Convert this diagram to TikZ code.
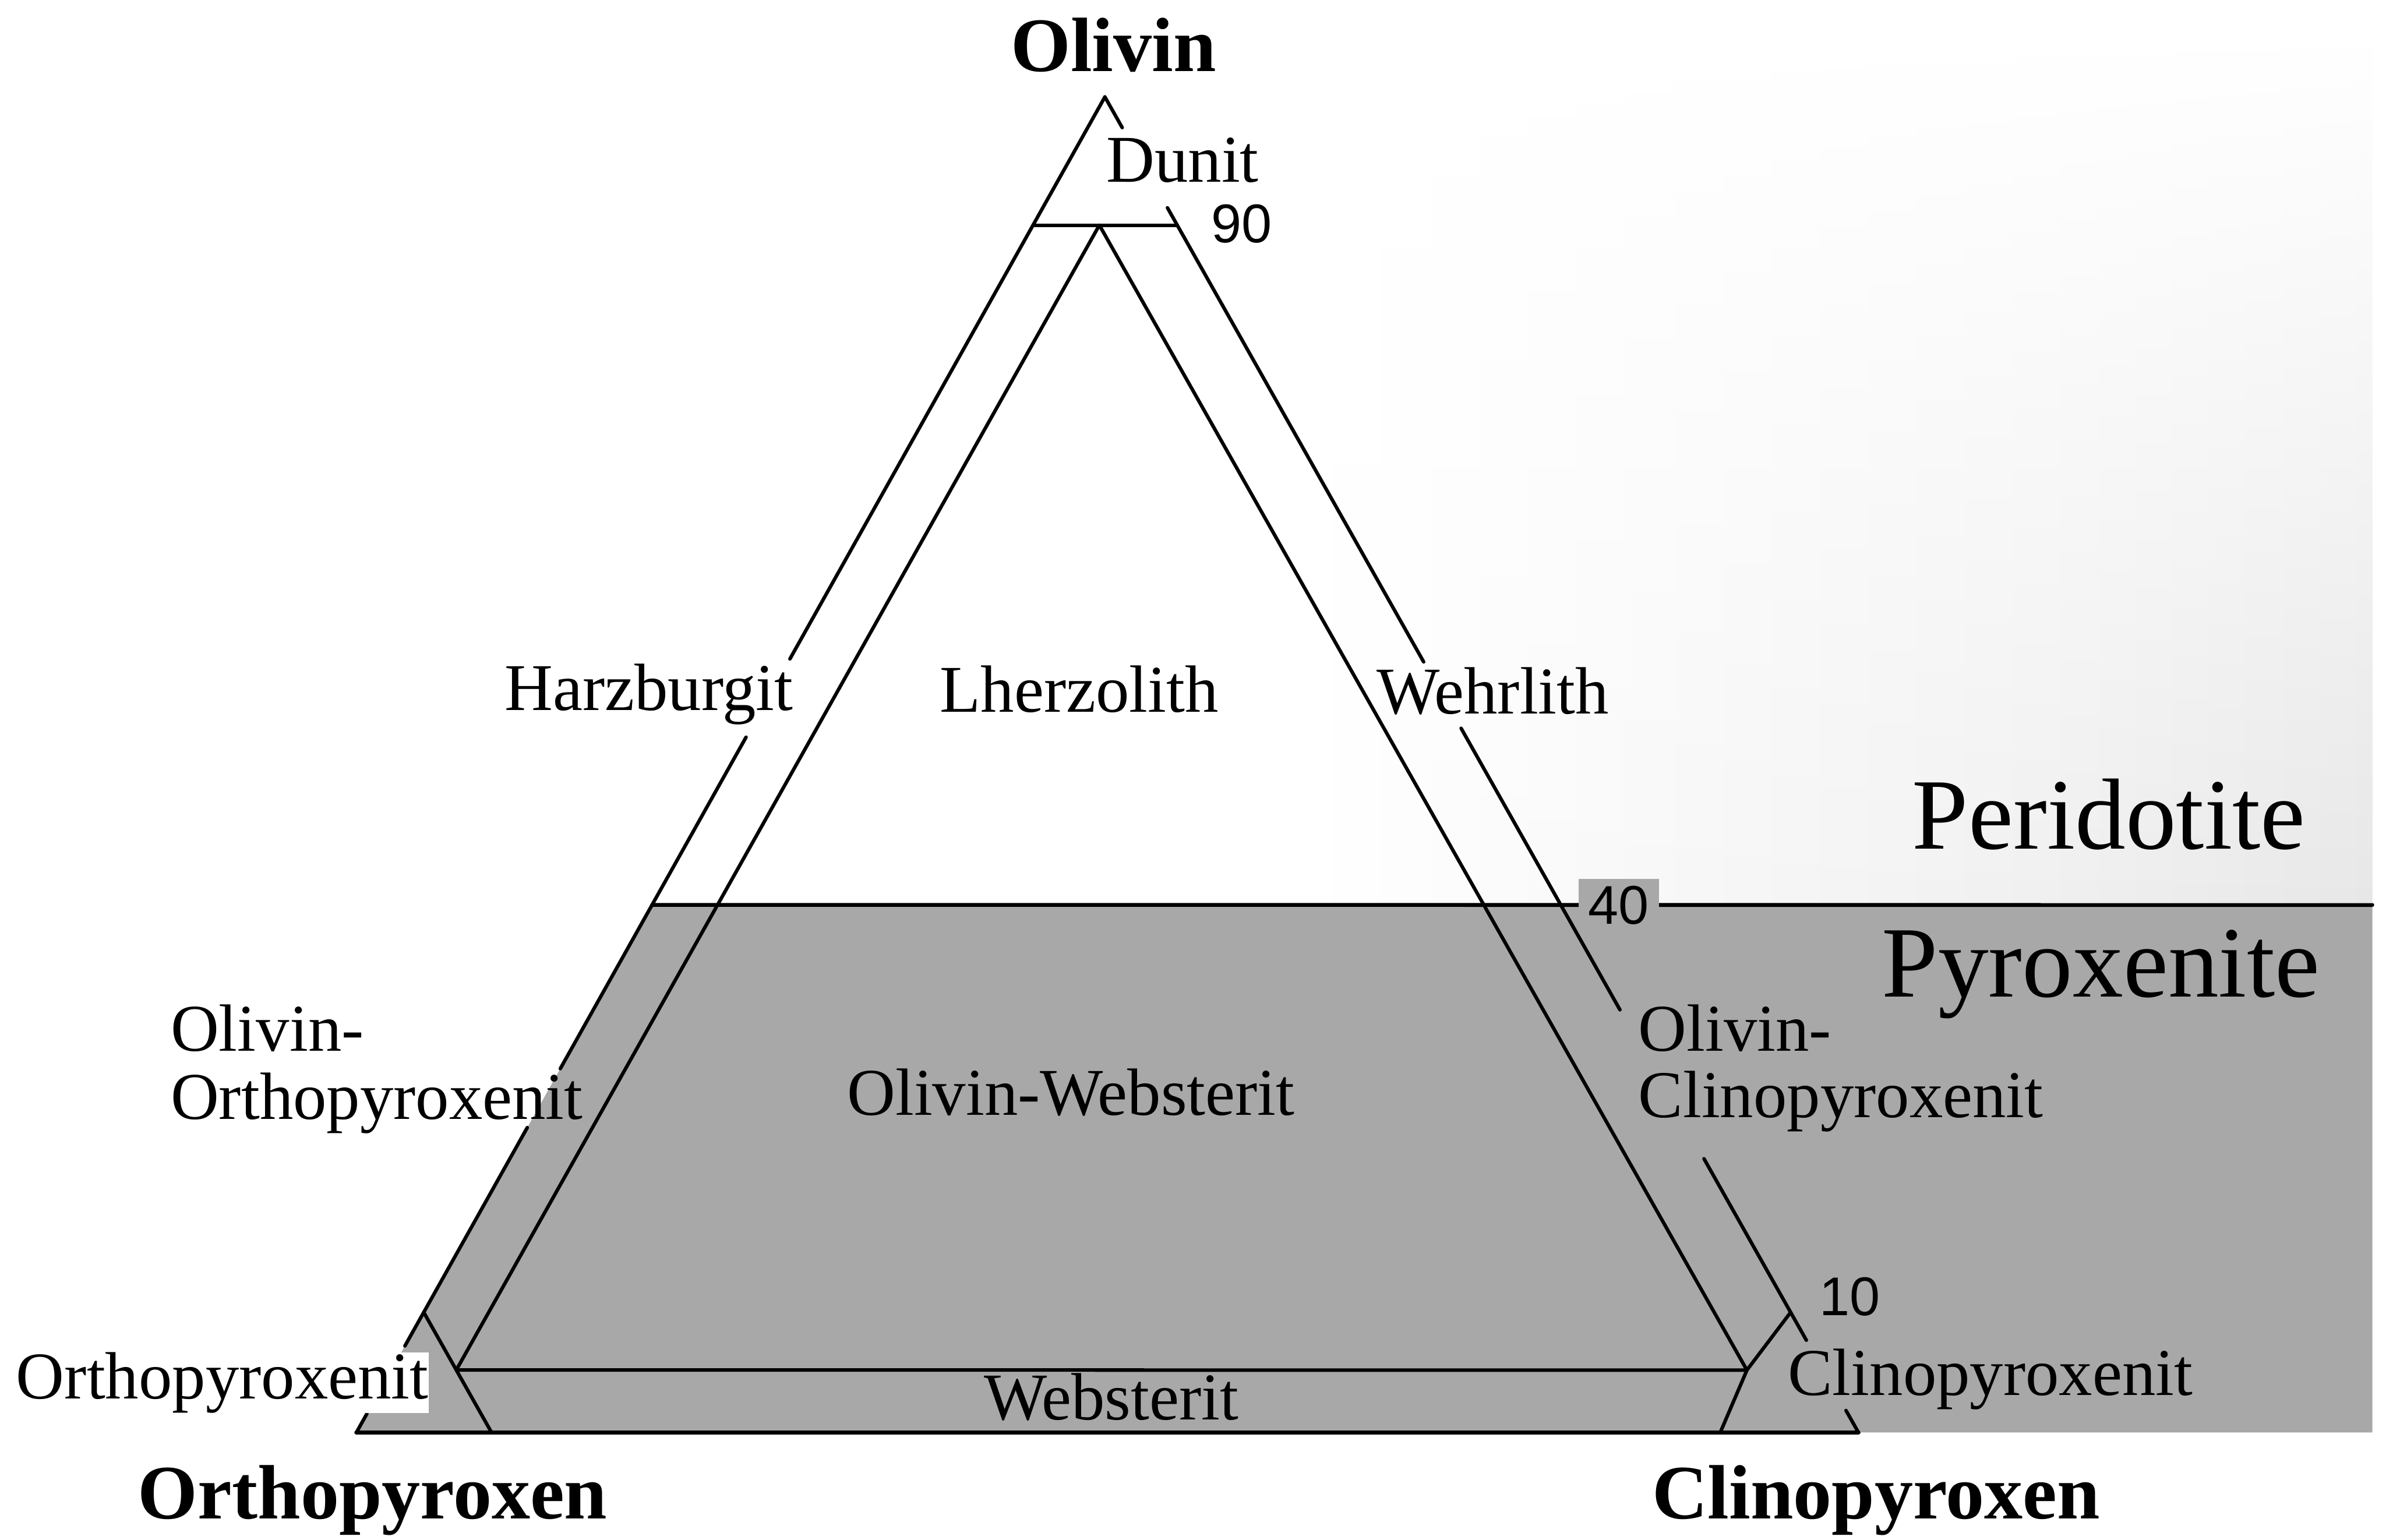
\documentclass[tikz,border=0pt]{standalone}
\usepackage{fontspec}
\setmainfont{Liberation Serif}
\newfontfamily\numfont{Liberation Sans}
\usetikzlibrary{calc,fadings}
\definecolor{pyx}{gray}{0.66}
\pgfdeclarehorizontalshading{speck}{100bp}{color(0bp)=(white); color(25bp)=(white); color(60bp)=(black!6); color(100bp)=(black!15)}
\tikzfading[name=topfade, top color=transparent!100, bottom color=transparent!0]
\begin{document}
\begin{tikzpicture}[x=0.1mm,y=-0.1mm,line cap=round,line join=round,
  edge/.style={line width=0.23mm},
  lab/.style={inner sep=0pt,anchor=base west,font=\fontsize{12.5}{14}\selectfont},
  blab/.style={inner sep=0pt,anchor=base west,font=\fontsize{14.4}{16}\selectfont\bfseries},
  biglab/.style={inner sep=0pt,anchor=base west,font=\fontsize{18.9}{21}\selectfont},
  numlab/.style={inner sep=0pt,anchor=base west,font=\numfont\fontsize{10.2}{12}\selectfont}]
\useasboundingbox (0,0) rectangle (1568,1012);
% corner points
\coordinate (A) at (726.1,63.7);
\coordinate (B) at (234.2,941.5);
\coordinate (C) at (1221.3,941.5);
\coordinate (L90) at ($(A)!0.096!(B)$);
\coordinate (R90) at ($(A)!0.096!(C)$);
\coordinate (M) at ($(L90)!0.46!(R90)$);
\coordinate (J1) at ($(A)!0.91!(B)$);
\coordinate (J2) at ($(A)!0.91!(C)$);
\coordinate (K1) at ($(B)!0.09!(C)$);
\coordinate (K2) at ($(C)!0.092!(B)$);
\coordinate (P) at ($(J1)!0.48!(K1)$);
\coordinate (Q) at (1148,900.5);
\coordinate (L40) at ($(A)!0.605!(B)$);
\coordinate (E40) at (1559,594.8);
\coordinate (G1) at (1559,941.5);
% background tones
\shade[shading=speck,path fading=topfade] (860,20) rectangle (E40);
\fill[pyx] (L40) -- (E40) -- (G1) -- (B) -- cycle;
% left edge (with gaps for labels)
\draw[edge] (A) -- ($(A)!0.4208!(B)$);
\draw[edge] ($(A)!0.4794!(B)$) -- ($(A)!0.7276!(B)$);
\draw[edge] ($(A)!0.7717!(B)$) -- ($(A)!0.9352!(B)$);
\draw[edge] ($(A)!0.9860!(B)$) -- (B);
% right edge (with gaps for labels)
\draw[edge] (A) -- ($(A)!0.023!(C)$);
\draw[edge] ($(A)!0.083!(C)$) -- ($(A)!0.423!(C)$);
\draw[edge] ($(A)!0.4727!(C)$) -- ($(A)!0.6835!(C)$);
\draw[edge] ($(A)!0.795!(C)$) -- ($(A)!0.9309!(C)$);
\draw[edge] ($(A)!0.9835!(C)$) -- (C);
% base
\draw[line width=0.27mm] (B) -- (C);
% inner lines
\draw[edge] (L90) -- (R90);
\draw[edge] (P) -- (M) -- (Q);
\draw[edge] (P) -- (Q);
\draw[edge] (J1) -- (P) -- (K1);
\draw[edge] (J2) -- (Q) -- (K2);
\draw[line width=0.25mm] (L40) -- (E40);
% labels
\node[blab] (tOl) at (663.6,46.7) {Olivin};
\node[blab] (tOpx) at (90,998) {Orthopyroxen};
\node[blab] (tCpx) at (1085,998) {Clinopyroxen};
\node[lab] (tDun) at (726.4,119.6) {Dunit};
\node[numlab] (n90) at (795.4,159.3) {90};
\node[lab] (tHz) at (331,467) {Harzburgit};
\node[lab] (tLh) at (617,468) {Lherzolith};
\node[lab] (tWh) at (904,469) {Wehrlith};
\node[biglab] (tPer) at (1256,558) {Peridotite};
\node[numlab,anchor=center,fill=pyx,inner xsep=0.65mm,inner ysep=0.45mm] (n40) at (1063.8,594.8) {40};
\node[biglab] (tPyr) at (1236,655) {Pyroxenite};
\node[lab] (tOOa) at (111.5,690.7) {Olivin-};
\node[lab] (tOOb) at (111.5,735.7) {Orthopyroxenit};
\node[lab] (tOW) at (556,733) {Olivin-Websterit};
\node[lab] (tOCa) at (1076,690.7) {Olivin-};
\node[lab] (tOCb) at (1076,734.5) {Clinopyroxenit};
\node[numlab] (n10) at (1195,864.5) {10};
\node[lab,fill=white] (tOrt) at (10,919.4) {Orthopyroxenit};
\node[lab] (tCl) at (1174.3,917) {Clinopyroxenit};
\node[lab] (tWb) at (646,933) {Websterit};
\end{tikzpicture}
\end{document}
